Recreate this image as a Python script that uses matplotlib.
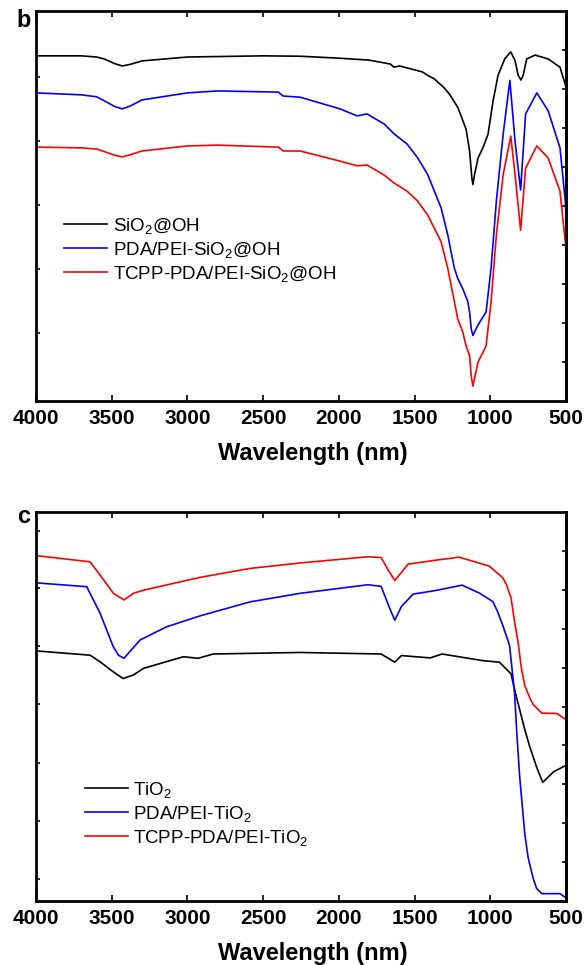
import matplotlib
matplotlib.use("Agg")
import matplotlib.pyplot as plt

plt.rcParams['font.family'] = ['Liberation Sans', 'DejaVu Sans']
plt.rcParams['mathtext.default'] = 'regular'

# ---- panel b: SiO2 samples (wavenumber, transmittance a.u.) ----
wn_sio2 = [4000, 3700, 3600, 3550, 3480, 3430, 3380, 3300, 3000, 2500, 2256, 2000, 1800,
           1660, 1636, 1600, 1450, 1414, 1370, 1305, 1270, 1215, 1160, 1137, 1122, 1115,
           1104, 1081, 1048, 1015, 982, 949, 904, 865, 837, 816, 798, 783, 760, 704,
           618, 540, 500]
t_sio2 = [88.5, 88.5, 88.2, 87.7, 86.5, 85.9, 86.3, 87.2, 88.2, 88.5, 88.4, 87.9, 87.4,
          86.4, 85.6, 85.9, 84.4, 83.5, 82.6, 80.3, 78.7, 75.3, 69.7, 64.1, 57.2, 55.5,
          58.1, 62.3, 65.0, 68.4, 76.9, 83.5, 87.8, 89.5, 87.3, 83.5, 82.3, 83.5, 87.7, 88.7,
          87.7, 85.6, 80.5]

wn_pda_sio2 = [4000, 3700, 3600, 3560, 3480, 3430, 3380, 3300, 3000, 2800, 2400, 2368, 2256,
               1992, 1880, 1814, 1700, 1636, 1550, 1481, 1414, 1325, 1281, 1259, 1237, 1215,
               1182, 1148, 1137, 1126, 1115, 1081, 1028, 995, 960, 915, 871, 837, 800, 767,
               693, 618, 540, 505, 500]
t_pda_sio2 = [79.0, 78.5, 78.0, 77.2, 75.5, 74.9, 75.6, 77.2, 79.0, 79.5, 79.2, 78.2, 77.9,
              74.9, 73.1, 73.6, 71.0, 68.5, 65.9, 62.4, 58.1, 49.5, 42.6, 38.2, 34.0, 31.4,
              28.8, 25.4, 22.8, 18.5, 16.8, 19.5, 22.8, 34.1, 51.3, 68.5, 82.2, 66.7, 54.1,
              73.6, 79.0, 74.4, 64.9, 51.3, 47.7]

wn_tcpp_sio2 = [4000, 3700, 3600, 3560, 3480, 3430, 3380, 3300, 3000, 2800, 2400, 2368, 2256,
                1992, 1880, 1814, 1700, 1636, 1550, 1481, 1414, 1325, 1281, 1259, 1237, 1215,
                1182, 1160, 1137, 1126, 1115, 1081, 1028, 995, 960, 915, 865, 837, 800, 767,
                693, 618, 540, 505, 500]
t_tcpp_sio2 = [65.1, 64.9, 64.6, 64.1, 63.0, 62.6, 63.1, 64.1, 65.4, 65.6, 65.1, 64.1, 64.1,
               61.5, 60.3, 60.5, 57.9, 55.9, 53.8, 51.3, 47.7, 40.8, 34.0, 29.7, 25.4, 21.0,
               17.7, 14.1, 11.6, 6.4, 3.8, 10.0, 14.1, 25.4, 42.6, 58.1, 67.9, 58.1, 43.8,
               59.7, 65.4, 62.3, 53.8, 40.8, 38.0]

# ---- panel c: TiO2 samples ----
wn_tio2 = [4000, 3643, 3577, 3489, 3425, 3357, 3291, 3027, 2929, 2830, 2256, 1721, 1631,
           1587, 1397, 1318, 1051, 940, 863, 840, 806, 772, 739, 694, 654, 583, 500]
t_tio2 = [64.3, 63.2, 61.5, 58.9, 57.2, 58.1, 59.8, 62.8, 62.4, 63.5, 63.9, 63.5, 61.4,
          63.1, 62.5, 63.5, 61.8, 61.4, 58.4, 54.4, 49.2, 44.0, 39.6, 34.4, 30.5, 33.2, 34.9]

wn_pda_tio2 = [4000, 3665, 3577, 3490, 3456, 3419, 3313, 3137, 2917, 2587, 2256, 1810, 1721,
               1665, 1631, 1587, 1510, 1365, 1186, 1074, 984, 952, 918, 873, 840, 825, 806,
               772, 750, 717, 694, 660, 540, 500]
t_pda_tio2 = [81.8, 80.8, 74.0, 65.4, 63.2, 62.4, 67.1, 70.5, 73.3, 76.9, 79.1, 81.3, 80.9,
              75.3, 72.2, 75.7, 78.9, 79.8, 81.2, 79.2, 77.0, 74.4, 70.9, 65.7, 53.5, 43.1,
              31.9, 17.1, 11.1, 5.8, 3.2, 1.9, 1.9, 0.8]

wn_tcpp_tio2 = [4000, 3643, 3577, 3489, 3419, 3357, 3291, 2917, 2587, 2256, 1810, 1721, 1676,
                1631, 1543, 1365, 1207, 1007, 918, 893, 863, 840, 817, 794, 772, 739, 717,
                660, 560, 500]
t_tcpp_tio2 = [88.8, 87.2, 83.8, 79.1, 77.4, 79.1, 79.9, 83.2, 85.5, 86.9, 88.5, 88.3, 85.2,
               82.4, 86.6, 87.6, 88.4, 86.1, 83.1, 81.3, 77.9, 71.8, 66.6, 59.6, 55.3, 52.2,
               50.5, 48.3, 48.2, 46.6]

labels_b = [r'SiO$_2$@OH', r'PDA/PEI-SiO$_2$@OH', r'TCPP-PDA/PEI-SiO$_2$@OH']
labels_c = [r'TiO$_2$', r'PDA/PEI-TiO$_2$', r'TCPP-PDA/PEI-TiO$_2$']
colors = ['black', '#0000ff', '#ff0000']
x_ticks = [4000, 3500, 3000, 2500, 2000, 1500, 1000, 500]


def style_axis(ax, left_ticks, right_ticks):
    ax.set_xlim(4000, 500)
    ax.set_ylim(0, 100)
    ax.set_xticks(x_ticks)
    ax.set_xticklabels([str(t) for t in x_ticks], fontsize=15, fontweight='bold')
    ax.set_yticks(left_ticks)
    ax.set_yticklabels([])
    ax.tick_params(axis='x', direction='in', top=True, length=4, width=1.2, pad=6)
    ax.tick_params(axis='y', direction='in', length=3, width=1.2)
    sec = ax.secondary_yaxis('right')
    sec.set_yticks(right_ticks)
    sec.set_yticklabels([])
    sec.tick_params(direction='in', length=3, width=1.2)
    sec.spines['right'].set_linewidth(2)
    for s in ax.spines.values():
        s.set_linewidth(2)
    ax.set_xlabel('Wavelength (nm)', fontsize=17, fontweight='bold')
    ax.xaxis.set_label_coords(0.523, -0.105)


def add_legend(ax, x, y):
    ax.legend(loc='upper left', bbox_to_anchor=(x, y), frameon=False,
              fontsize=13.5, handlelength=2.3, handletextpad=0.3, labelspacing=0.22,
              borderpad=0, borderaxespad=0)


fig = plt.figure(figsize=(5.87, 9.65), dpi=100)

ax_b = fig.add_axes([0.0613, 0.5845, 0.903, 0.4041])
for wn, t, lab, col in zip([wn_sio2, wn_pda_sio2, wn_tcpp_sio2],
                           [t_sio2, t_pda_sio2, t_tcpp_sio2], labels_b, colors):
    ax_b.plot(wn, t, color=col, lw=1.2, label=lab)
style_axis(ax_b, [17.4, 33.8, 50.2, 66.6, 83.0], [10, 20, 30, 40, 50, 60, 70, 80, 90])
add_legend(ax_b, 0.053, 0.475)

ax_c = fig.add_axes([0.0613, 0.0663, 0.903, 0.4031])
for wn, t, lab, col in zip([wn_tio2, wn_pda_tio2, wn_tcpp_tio2],
                           [t_tio2, t_pda_tio2, t_tcpp_tio2], labels_c, colors):
    ax_c.plot(wn, t, color=col, lw=1.2, label=lab)
style_axis(ax_c, [5.7, 20.6, 35.5, 50.6, 65.6, 80.5, 95.1], [10, 20, 30, 40, 50, 60, 70, 80, 90])
add_legend(ax_c, 0.092, 0.312)

fig.text(24 / 587, 1 - 27 / 965, 'b', fontsize=17, fontweight='bold', ha='center', va='baseline')
fig.text(24 / 587, 1 - 523 / 965, 'c', fontsize=17, fontweight='bold', ha='center', va='baseline')

fig.savefig('out.png', dpi=100)
